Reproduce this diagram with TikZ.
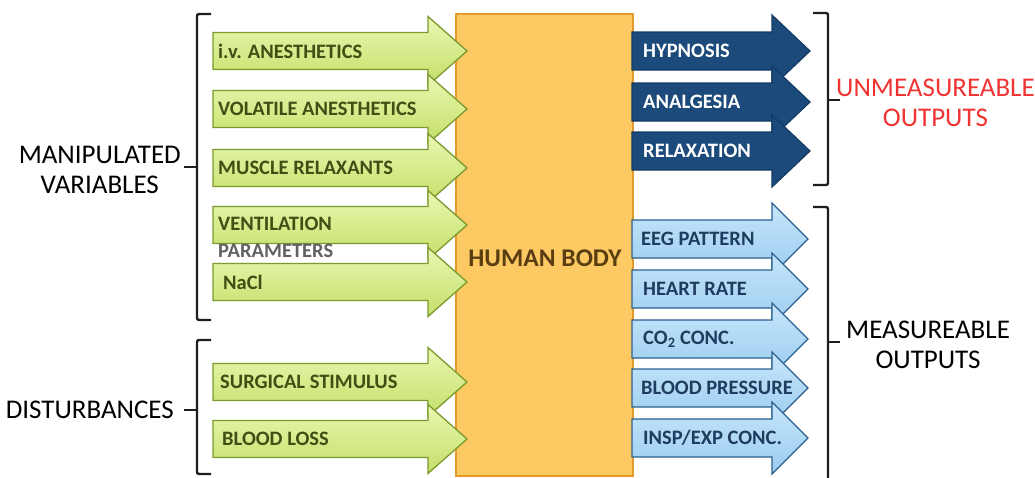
\documentclass[tikz,border=0pt]{standalone}
\usepackage{fontspec}
\setmainfont{Carlito}
\definecolor{gfillT}{HTML}{EAF7B2}
\definecolor{gfillB}{HTML}{C4DF68}
\definecolor{gline}{HTML}{7A9A2E}
\definecolor{gtext}{HTML}{404F14}
\definecolor{bodyfill}{HTML}{FDC963}
\definecolor{bodyline}{HTML}{E39A2A}
\definecolor{bodytext}{HTML}{5A3E12}
\definecolor{dbfill}{HTML}{1C4A7A}
\definecolor{dbline}{HTML}{143C64}
\definecolor{lbfillT}{HTML}{C6E6FB}
\definecolor{lbfillB}{HTML}{9BCCEF}
\definecolor{lbline}{HTML}{2B608F}
\definecolor{lbtext}{HTML}{1F3D5F}
\definecolor{redtext}{HTML}{F03434}
\newcommand{\blkarrow}[7]{%
  \draw[#1] (#2,#5-#6) -- (#3,#5-#6) -- (#3,#5-#7) -- (#4,#5) -- (#3,#5+#7) -- (#3,#5+#6) -- (#2,#5+#6) -- cycle;}
\begin{document}
\begin{tikzpicture}[x=1pt,y=-1pt,
  garrow/.style={draw=gline,line width=1.3pt,top color=gfillT,bottom color=gfillB,line join=miter},
  dbarrow/.style={draw=dbline,line width=1.2pt,fill=dbfill,line join=miter},
  lbarrow/.style={draw=lbline,line width=1.3pt,top color=lbfillT,bottom color=lbfillB,line join=miter},
  glab/.style={anchor=west,inner sep=0pt,text=gtext,font=\bfseries\fontsize{20.5}{26}\selectfont},
  dblab/.style={anchor=west,inner sep=0pt,text=white,font=\bfseries\fontsize{20.5}{24}\selectfont},
  lblab/.style={anchor=west,inner sep=0pt,text=lbtext,font=\bfseries\fontsize{20.5}{24}\selectfont},
  grouplab/.style={inner sep=0pt,align=center,font=\fontsize{27}{30}\selectfont},
  bracket/.style={draw=black!88,line width=2.4pt,rounded corners=2pt}]
\useasboundingbox (0,0) rectangle (1035,477);
\fill[white] (0,0) rectangle (1035,477);
% body
\node[draw=bodyline,line width=1.5pt,fill=bodyfill,minimum width=177pt,minimum height=462pt,anchor=north west,inner sep=0pt] (body) at (455,13) {};
\node[inner sep=0pt,text=bodytext,font=\bfseries\fontsize{25.5}{28}\selectfont] (bodylab) at (545,258) {HUMAN BODY};
% left arrows
\blkarrow{garrow}{213}{428}{467}{51}{18.5}{34.5}
\blkarrow{garrow}{213}{428}{467}{109}{18.5}{34.5}
\blkarrow{garrow}{213}{428}{467}{168}{18.5}{34.5}
\blkarrow{garrow}{213}{428}{467}{225}{18.5}{34.5}
\blkarrow{garrow}{213}{428}{467}{282}{18.5}{34.5}
\blkarrow{garrow}{213}{428}{467}{382}{18.5}{34.5}
\blkarrow{garrow}{213}{428}{467}{439}{18.5}{34.5}
\node[glab] (iv) at (218,51) {i.v. ANESTHETICS};
\node[glab] (vol) at (218,109) {VOLATILE ANESTHETICS};
\node[glab] (mus) at (218,168) {MUSCLE RELAXANTS};
\node[glab] (ven) at (218,224) {VENTILATION};
\node[glab,text=black!62] (par) at (218,251) {PARAMETERS};
\node[glab] (nacl) at (223,282) {NaCl};
\node[glab] (surg) at (220,382) {SURGICAL STIMULUS};
\node[glab] (bl) at (222,439) {BLOOD LOSS};
% right dark arrows
\blkarrow{dbarrow}{632}{772}{810}{51}{19}{36}
\blkarrow{dbarrow}{632}{772}{810}{102}{19}{36}
\blkarrow{dbarrow}{632}{772}{810}{151}{19}{36}
\node[dblab] (hyp) at (643,51) {HYPNOSIS};
\node[dblab] (ana) at (643,102) {ANALGESIA};
\node[dblab] (rel) at (643,151) {RELAXATION};
% right light arrows
\blkarrow{lbarrow}{632}{772}{808}{239}{19}{36}
\blkarrow{lbarrow}{632}{772}{808}{289}{19}{36}
\blkarrow{lbarrow}{632}{772}{808}{339}{19}{36}
\blkarrow{lbarrow}{632}{772}{808}{388}{19}{36}
\blkarrow{lbarrow}{632}{772}{808}{438}{19}{36}
\node[lblab] (eeg) at (641,239) {EEG PATTERN};
\node[lblab] (hr) at (643,289) {HEART RATE};
\node[lblab] (co2) at (643,339) {CO\textsubscript{2} CONC.};
\node[lblab] (bp) at (641,388) {BLOOD PRESSURE};
\node[lblab] (insp) at (643,438) {INSP/EXP CONC.};
% brackets
\coordinate (mvtick) at (184,167);
\coordinate (dtick) at (184,410);
\coordinate (uotick) at (840,100);
\coordinate (motick) at (840,342);
\draw[bracket] (211,14) -- (197,14) -- (197,320) -- (211,320);
\draw[bracket] (197,167) -- (mvtick);
\draw[bracket] (211,340) -- (197,340) -- (197,474) -- (211,474);
\draw[bracket] (197,410) -- (dtick);
\draw[bracket] (813,13) -- (828,13) -- (828,185) -- (813,185);
\draw[bracket] (828,100) -- (uotick);
\draw[bracket] (813,207) -- (828,207) -- (828,480);
\draw[bracket] (828,342) -- (motick);
% group labels
\node[grouplab,anchor=east] (mv) at (181,170) {MANIPULATED\\VARIABLES};
\node[grouplab,anchor=east] (dist) at (174,410) {DISTURBANCES};
\node[grouplab,anchor=west,text=redtext] (uo) at (836,103) {UNMEASUREABLE\\OUTPUTS};
\node[grouplab,anchor=west] (mo) at (846,345) {MEASUREABLE\\OUTPUTS};
\end{tikzpicture}
\end{document}
